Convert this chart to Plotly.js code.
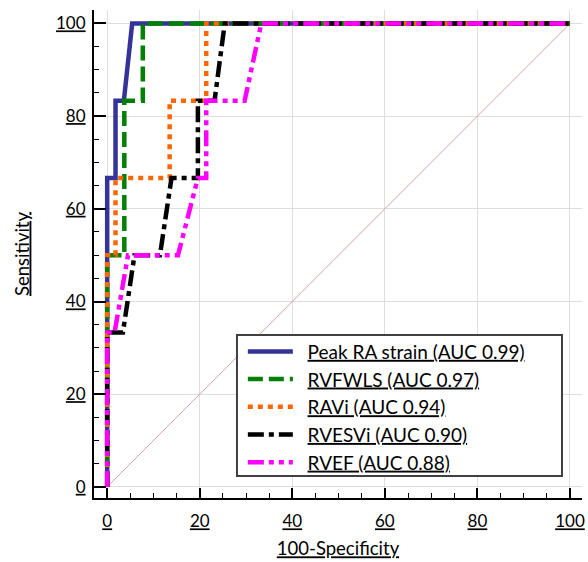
<!DOCTYPE html>
<html>
<head>
<meta charset="utf-8">
<script src="https://cdn.plot.ly/plotly-3.0.1.min.js"></script>
<style>html,body{margin:0;padding:0;background:#fff;}#chart{width:588px;height:562px;}</style>
</head>
<body>
<div id="chart"></div>
<script>
// ROC curve data (100-Specificity, Sensitivity)
const seriesNames = [
  "Peak RA strain (AUC 0.99)",
  "RVFWLS (AUC 0.97)",
  "RAVi (AUC 0.94)",
  "RVESVi (AUC 0.90)",
  "RVEF (AUC 0.88)"
];
const strainX = [0, 0, 1.8, 1.8, 3.6, 5.4, 100];
const strainY = [0, 66.67, 66.67, 83.33, 83.33, 100, 100];
const rvfwlsX = [0, 0, 3.7, 3.7, 7.7, 7.7, 100];
const rvfwlsY = [0, 50, 50, 83.33, 83.33, 100, 100];
const raviX = [0, 0, 1.8, 1.8, 13.5, 13.5, 21.4, 21.4, 100];
const raviY = [0, 50, 50, 66.67, 66.67, 83.33, 83.33, 100, 100];
const rvesviX = [0, 0, 3.4, 5.9, 11.4, 13.9, 19.6, 19.6, 23.2, 25.4, 100];
const rvesviY = [0, 33.33, 33.33, 50, 50, 66.67, 66.67, 83.33, 83.33, 100, 100];
const rvefX = [0, 0, 1.6, 4.5, 15.3, 19.6, 21.4, 21.4, 29.7, 33.3, 100];
const rvefY = [0, 33.33, 33.33, 50, 50, 66.67, 66.67, 83.33, 83.33, 100, 100];
const refLineX = [0, 100];
const refLineY = [0, 100];
const tickValues = [0, 20, 40, 60, 80, 100];
const tickLabels = ["0", "20", "40", "60", "80", "100"];

const FONT = "Lato, 'DejaVu Sans', sans-serif";
const u = s => "<u>" + s + "</u>";

const styles = [
  {color: "#333399", dash: "solid", width: 4.5},
  {color: "#008000", dash: "15px,6px", width: 4.5},
  {color: "#ff6600", dash: "5px,5px", width: 4.5},
  {color: "#000000", dash: "16px,5px,5px,5px", width: 4.5},
  {color: "#ff00ff", dash: "16px,5px,5px,5px,5px,5px", width: 4.5}
];
const xs = [strainX, rvfwlsX, raviX, rvesviX, rvefX];
const ys = [strainY, rvfwlsY, raviY, rvesviY, rvefY];

const traces = [{
  x: refLineX, y: refLineY, mode: "lines", showlegend: false, hoverinfo: "skip",
  line: {color: "#d9a3a3", width: 1}
}];
for (let i = 0; i < seriesNames.length; i++) {
  traces.push({
    x: xs[i], y: ys[i], mode: "lines", name: "&nbsp;&nbsp;" + u(seriesNames[i]),
    line: {color: styles[i].color, dash: styles[i].dash, width: styles[i].width, shape: "linear"}
  });
}

const axisCommon = {
  tickmode: "array", tickvals: tickValues, ticktext: tickLabels.map(u),
  ticks: "inside", tickwidth: 2, tickcolor: "#000",
  showline: true, linecolor: "#000", linewidth: 2,
  showgrid: true, gridcolor: "#dedede", gridwidth: 1,
  zeroline: false, mirror: false,
  tickfont: {family: FONT, size: 17, color: "#000"},
  minor: {tickmode: "linear", tick0: 0, dtick: 5, ticks: "inside", ticklen: 5, tickwidth: 1, tickcolor: "#000", showgrid: false}
};

const layout = {
  width: 588, height: 562,
  margin: {l: 94, r: 6, t: 10, b: 64},
  paper_bgcolor: "#fff", plot_bgcolor: "#fff",
  font: {family: FONT, color: "#000"},
  xaxis: Object.assign({}, axisCommon, {
    range: [-2.85, 102.6], ticklen: 10, ticklabelstandoff: 7,
    title: {text: u("100-Specificity"), font: {family: FONT, size: 18.5, color: "#000"}, standoff: 12}
  }),
  yaxis: Object.assign({}, axisCommon, {
    range: [-2.4, 102.9], ticklen: 12, ticklabelstandoff: 3,
    title: {text: u("Sensitivity"), font: {family: FONT, size: 18.5, color: "#000"}, standoff: 22}
  }),
  showlegend: true,
  legend: {
    x: 0.305, y: 0.339, xanchor: "left", yanchor: "top",
    bgcolor: "rgba(0,0,0,0)", borderwidth: 0,
    font: {family: FONT, size: 19, color: "#000"},
    itemwidth: 45, tracegroupgap: 0
  },
  shapes: [{
    type: "rect", xref: "paper", yref: "paper",
    x0: 0.293, x1: 0.959, y0: 0.045, y1: 0.334,
    line: {color: "#404040", width: 2}, fillcolor: "#fff", layer: "above"
  }]
};

Plotly.newPlot("chart", traces, layout, {displayModeBar: false, staticPlot: true});
</script>
</body>
</html>
